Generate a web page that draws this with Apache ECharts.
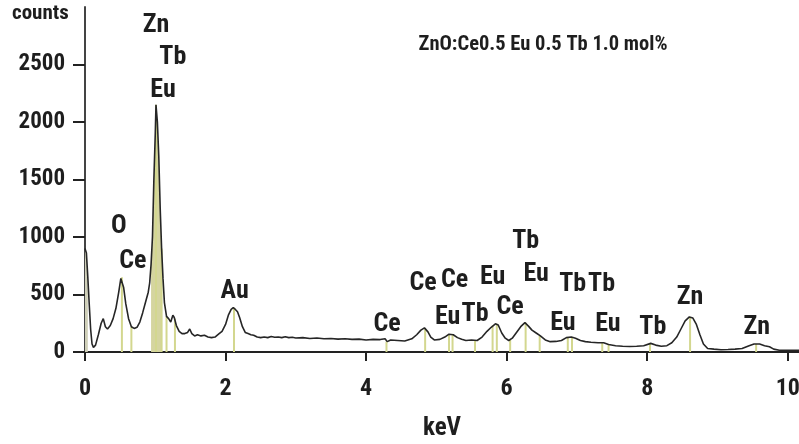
<!DOCTYPE html>
<html>
<head>
<meta charset="utf-8">
<style>
  html, body { margin: 0; padding: 0; background: #fff; }
  #chart { width: 799px; height: 444px; }
</style>
<script src="https://cdn.jsdelivr.net/npm/echarts@6/dist/echarts.min.js"></script>
</head>
<body>
<div id="chart"></div>
<script>
// EDS spectrum of ZnO:Ce/Eu/Tb — energy (keV) and counts
const spectrumKeV = [
  0.00, 0.02, 0.04, 0.06, 0.08, 0.10, 0.12, 0.15, 0.19, 0.23, 0.26, 0.29, 0.32, 0.36, 0.40, 0.44,
  0.48, 0.51, 0.53, 0.55, 0.58, 0.62, 0.66, 0.70, 0.74, 0.78, 0.82, 0.86, 0.90, 0.92, 0.94, 0.96,
  0.98, 1.00, 1.01, 1.03, 1.05, 1.07, 1.09, 1.11, 1.13, 1.16, 1.19, 1.22, 1.25, 1.27, 1.30, 1.34,
  1.38, 1.42, 1.46, 1.49, 1.52, 1.56, 1.60, 1.65, 1.70, 1.75, 1.80, 1.85, 1.90, 1.95, 2.00, 2.04,
  2.08, 2.11, 2.14, 2.17, 2.20, 2.24, 2.28, 2.32, 2.36, 2.40, 2.45, 2.50, 2.55, 2.60, 2.65, 2.70,
  2.75, 2.80, 2.85, 2.90, 2.95, 3.00, 3.10, 3.20, 3.30, 3.40, 3.50, 3.60, 3.70, 3.80, 3.90, 4.00,
  4.10, 4.20, 4.27, 4.30, 4.35, 4.45, 4.55, 4.65, 4.72, 4.78, 4.83, 4.88, 4.92, 4.97, 5.05, 5.12,
  5.18, 5.24, 5.30, 5.36, 5.42, 5.50, 5.58, 5.65, 5.72, 5.78, 5.84, 5.88, 5.93, 5.98, 6.03, 6.08,
  6.14, 6.20, 6.26, 6.31, 6.36, 6.42, 6.48, 6.55, 6.62, 6.70, 6.78, 6.85, 6.92, 6.98, 7.05, 7.12,
  7.20, 7.30, 7.38, 7.45, 7.55, 7.65, 7.75, 7.85, 7.95, 8.05, 8.12, 8.20, 8.28, 8.35, 8.42, 8.48,
  8.54, 8.60, 8.65, 8.70, 8.75, 8.80, 8.86, 8.95, 9.05, 9.15, 9.25, 9.35, 9.45, 9.52, 9.60, 9.67,
  9.74, 9.80, 9.88, 10.00, 10.16
];
const spectrumCounts = [
  900, 860, 650, 420, 200, 70, 40, 60, 150, 250, 290, 220, 200, 230, 290, 380,
  520, 640, 650, 560, 420, 290, 220, 205, 215, 260, 340, 430, 520, 600, 760, 1000,
  1500, 1900, 2150, 2000, 1700, 1250, 900, 640, 430, 310, 290, 260, 320, 300, 230, 180,
  160, 160, 170, 200, 160, 140, 150, 140, 145, 130, 125, 130, 155, 180, 240, 320,
  370, 385, 370, 350, 300, 220, 170, 160, 150, 145, 130, 125, 130, 125, 135, 128,
  130, 125, 132, 125, 128, 122, 125, 118, 122, 115, 118, 112, 115, 110, 112, 105,
  110, 108, 115, 90, 105, 100, 95, 115, 150, 190, 210, 175, 130, 105, 110, 130,
  155, 150, 125, 110, 100, 105, 100, 130, 180, 215, 245, 235, 165, 120, 100, 120,
  170, 220, 255, 225, 190, 165, 140, 105, 90, 92, 100, 125, 130, 120, 100, 90,
  85, 80, 80, 65, 55, 50, 48, 50, 55, 75, 60, 50, 55, 80, 130, 200,
  270, 305, 295, 240, 150, 70, 30, 25, 20, 22, 25, 30, 55, 70, 70, 55,
  45, 25, 15, 15, 15
];

// Element line markers (energy, counts where the line meets the spectrum)
const markerKeV    = [0.525, 0.66, 1.01, 1.09, 1.16, 1.28, 2.12, 4.29, 4.84, 5.18, 5.23, 5.55, 5.80, 5.86, 6.05, 6.27, 6.47, 6.87, 6.93, 7.36, 7.45, 8.04, 8.61, 9.55];
const markerCounts = [650, 220, 2150, 900, 310, 290, 385, 90, 205, 155, 150, 100, 230, 245, 105, 255, 140, 125, 130, 80, 65, 75, 305, 70];

// Element annotations anchored at (energy, counts)
const labelText   = ['Zn', 'Tb', 'Eu', 'O', 'Ce', 'Au', 'Ce', 'Ce', 'Ce', 'Eu', 'Tb', 'Eu', 'Tb', 'Eu', 'Ce', 'Eu', 'Tb', 'Tb', 'Eu', 'Tb', 'Zn', 'Zn'];
const labelKeV    = [1.01, 1.25, 1.11, 0.48, 0.68, 2.13, 4.30, 4.81, 5.26, 5.16, 5.55, 5.80, 6.27, 6.42, 6.05, 6.80, 6.94, 7.35, 7.44, 8.08, 8.61, 9.56];
const labelCounts = [2843, 2565, 2278, 1087, 783, 522, 235, 600, 626, 304, 322, 652, 957, 670, 383, 252, 583, 583, 235, 209, 478, 209];

// Zn L peak region and the zero-energy strip are shaded under the curve
const shadedRanges = [[0.93, 1.09], [0.0, 0.05]];

const xTicks = [0, 2, 4, 6, 8, 10];
const yTicks = [0, 500, 1000, 1500, 2000, 2500];

const FONT = "'Roboto Condensed', 'Open Sans Condensed', sans-serif";
const TEXT = '#1e1e1e';

const spectrum = spectrumKeV.map((k, i) => [k, spectrumCounts[i]]);
const markers = markerKeV.map((k, i) => [k, markerCounts[i]]);
const labels = labelKeV.map((k, i) => ({ value: [k, labelCounts[i]], name: labelText[i] }));
const shadeSeries = shadedRanges.map((r, idx) => ({
  type: 'line',
  data: spectrum.filter(p => p[0] >= r[0] && p[0] <= r[1]),
  symbol: 'none',
  lineStyle: { width: 0 },
  areaStyle: { color: idx === 0 ? '#d5d5a0' : '#cfcfb8', opacity: 1 },
  z: 1,
  silent: true
}));

const chart = echarts.init(document.getElementById('chart'), null, { renderer: 'canvas' });
chart.setOption({
  animation: false,
  backgroundColor: '#fff',
  grid: { left: 85, right: 0, top: 7, bottom: 92, containLabel: false, outerBoundsMode: 'none' },
  xAxis: {
    type: 'value',
    min: 0,
    max: 10.16,
    name: 'keV',
    nameLocation: 'middle',
    nameGap: 64,
    nameTextStyle: { fontFamily: FONT, fontWeight: 'bold', fontSize: 25, color: TEXT },
    axisLine: { show: true, onZero: false, lineStyle: { color: '#222', width: 2 } },
    axisTick: { show: true, length: 9, lineStyle: { color: '#222', width: 2 }, customValues: xTicks },
    axisLabel: { customValues: xTicks, margin: 25, fontFamily: FONT, fontWeight: 'bold', fontSize: 24, color: TEXT },
    splitLine: { show: false }
  },
  yAxis: {
    type: 'value',
    min: 0,
    max: 3000,
    axisLine: { show: true, lineStyle: { color: '#444', width: 2 } },
    axisTick: { show: true, length: 12, lineStyle: { color: '#222', width: 2 }, customValues: yTicks },
    axisLabel: {
      customValues: yTicks,
      formatter: v => String(v),
      margin: 20,
      fontFamily: FONT,
      fontWeight: 'bold',
      fontSize: 23,
      color: TEXT
    },
    splitLine: { show: false }
  },
  graphic: [
    { type: 'text', left: 12, top: 3, style: { text: 'counts', font: "bold 21px " + FONT, fill: TEXT } },
    { type: 'text', x: 543, y: 45, style: { text: 'ZnO:Ce0.5 Eu 0.5 Tb 1.0 mol%', font: "bold 20.5px " + FONT, fill: TEXT, align: 'center', verticalAlign: 'middle' } }
  ],
  series: [
    ...shadeSeries,
    {
      type: 'bar',
      data: markers,
      barWidth: 2,
      itemStyle: { color: '#d3d78f' },
      z: 2,
      silent: true
    },
    {
      type: 'line',
      data: spectrum,
      symbol: 'none',
      lineStyle: { color: '#262626', width: 1.6 },
      z: 3,
      silent: true
    },
    {
      type: 'scatter',
      data: labels,
      symbolSize: 0,
      itemStyle: { opacity: 1 },
      label: {
        show: true,
        position: 'inside',
        formatter: p => p.name,
        fontFamily: FONT,
        fontWeight: 'bold',
        fontSize: 26,
        color: TEXT,
        opacity: 1
      },
      z: 4,
      silent: true
    }
  ]
});
</script>
</body>
</html>
